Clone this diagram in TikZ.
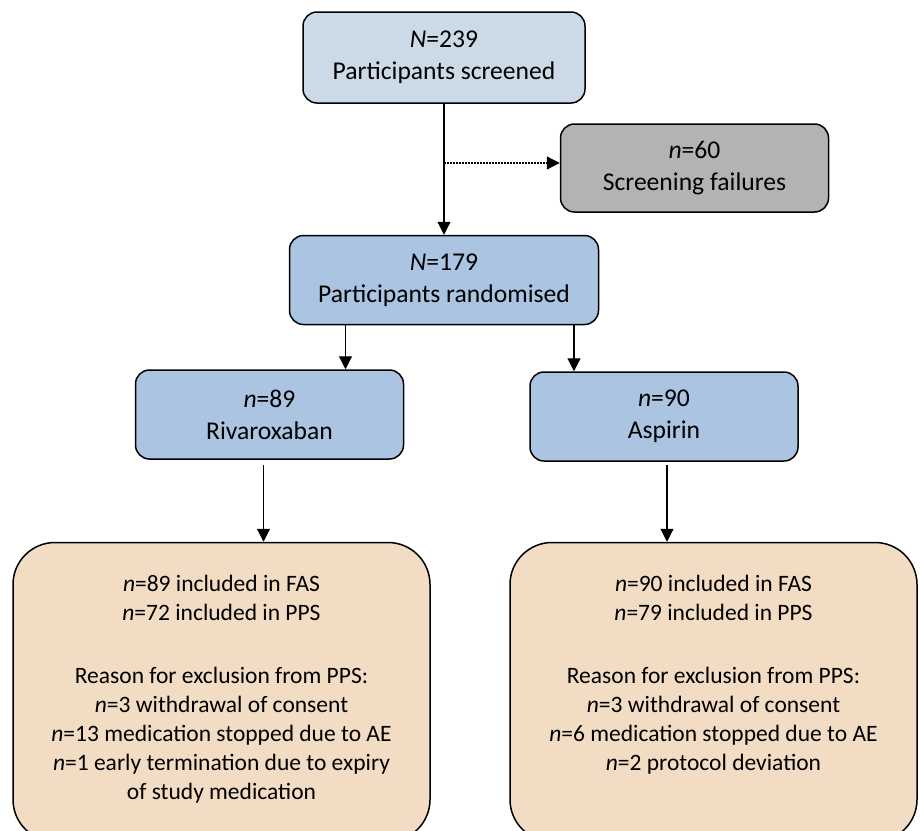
\documentclass[tikz,border=0pt]{standalone}
\usepackage{fontspec}
\setmainfont{Carlito}
\usepackage{tikz}
\usetikzlibrary{arrows.meta,positioning}
\definecolor{screenfill}{RGB}{204,218,232}
\definecolor{armfill}{RGB}{170,196,226}
\definecolor{failfill}{RGB}{179,179,179}
\definecolor{setfill}{RGB}{242,221,196}

\begin{document}
\begin{tikzpicture}[x=1pt, y=1pt]
        % Define styles
        \tikzset{
            box/.style={rectangle, rounded corners=14pt, draw, line width=1.5pt, align=center, inner sep=0pt, font=\fontsize{25.6}{32}\selectfont},
            armbox/.style={box, fill=armfill, minimum width=268pt, minimum height=89pt},
            setbox/.style={box, rounded corners=42pt, fill=setfill, minimum height=299pt, font=\fontsize{23.5}{29}\selectfont},
            arrow/.style={line width=1.2pt, -{Triangle[length=13pt,width=13pt]}},
            dotarrow/.style={arrow, dash pattern=on 1.5pt off 1.5pt}
        }
        \useasboundingbox (0,0) rectangle (921,-830);
        \clip (0,0) rectangle (921,-830);

        % Create nodes
        \node [box, fill=screenfill, minimum width=282pt, minimum height=91pt] (screened) at (444,-57.5) {\textit{N}=239\\Participants screened};
        \node [box, fill=failfill, minimum width=268pt, minimum height=88pt, right=-26pt of screened, yshift=-110.5pt] (fail) {\textit{n}=60\\Screening failures};
        \node [box, fill=armfill, minimum width=309pt, minimum height=89pt, below=131pt of screened] (rand) {\textit{N}=179\\Participants randomised};
        \node [armbox, below=44pt of rand, xshift=-174.5pt] (riva) {\textit{n}=89\\Rivaroxaban};
        \node [armbox, below=46pt of rand, xshift=220pt] (asp) {\textit{n}=90\\Aspirin};
        \node [setbox, minimum width=417pt, below=82pt of riva, xshift=-48pt] (rivaset) {\parbox[c][234pt][t]{400pt}{\centering
            \textit{n}=89 included in FAS\\
            \textit{n}=72 included in PPS\\[34pt]
            Reason for exclusion from PPS:\\
            \textit{n}=3 withdrawal of consent\\
            \textit{n}=13 medication stopped due to AE\\
            \textit{n}=1 early termination due to expiry\\
            of study medication}};
        \node [setbox, minimum width=407pt, below=80pt of asp, xshift=49.5pt] (aspset) {\parbox[c][234pt][t]{390pt}{\centering
            \textit{n}=90 included in FAS\\
            \textit{n}=79 included in PPS\\[34pt]
            Reason for exclusion from PPS:\\
            \textit{n}=3 withdrawal of consent\\
            \textit{n}=6 medication stopped due to AE\\
            \textit{n}=2 protocol deviation}};

        % Create arrows
        \draw [arrow] (screened) -- (rand);
        \coordinate (split) at ([yshift=5pt]screened.south |- fail.west);
        \draw [dotarrow] (split) -- (fail.west |- split);
        \draw [arrow] ([xshift=-98.5pt]rand.south) -- ([xshift=-98.5pt]rand.south |- riva.north);
        \draw [arrow] ([xshift=130pt]rand.south) -- ([xshift=130pt]rand.south |- asp.north);
        \draw [arrow] ([xshift=-6pt,yshift=-5pt]riva.south) -- ([xshift=-6pt]riva.south |- rivaset.north);
        \draw [arrow] ([xshift=3pt,yshift=-3pt]asp.south) -- ([xshift=3pt]asp.south |- aspset.north);
    \end{tikzpicture}
\end{document}
